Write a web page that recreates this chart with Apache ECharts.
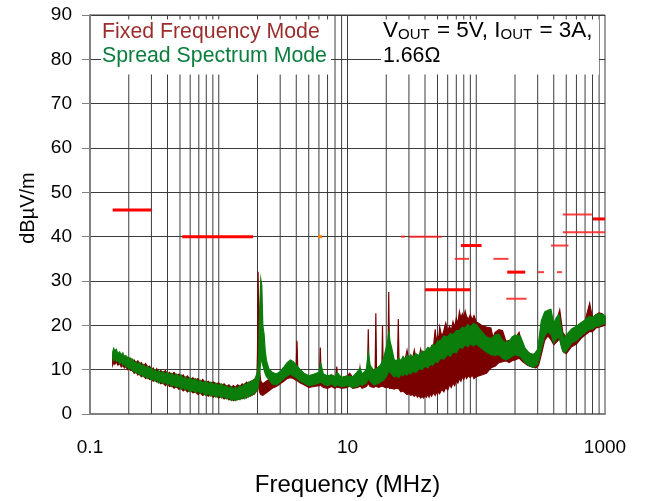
<!DOCTYPE html>
<html>
<head>
<meta charset="utf-8">
<script src="https://cdn.jsdelivr.net/npm/echarts@6/dist/echarts.min.js"></script>
<style>
  html, body { margin: 0; padding: 0; background: #fff; }
  #chart { width: 649px; height: 501px; }
</style>
</head>
<body>
<div id="chart"></div>
<script>
// Radiated emissions scan, 150 kHz to 1 GHz, dBµV/m

const xTickLabels = [0.1, 10, 1000];
const yMin = 0, yMax = 90, yStep = 10;

// Log-decade grid lines (MHz)
const gridFreqs = [
  0.2, 0.3, 0.4, 0.5, 0.6, 0.7, 0.8, 0.9, 1,
  2, 3, 4, 5, 6, 7, 8, 9, 10,
  20, 30, 40, 50, 60, 70, 80, 90, 100,
  200, 300, 400, 500, 600, 700, 800, 900
];

// Fixed frequency mode: frequency (MHz), lower / upper edge of the scan trace (dBµV/m)
const fixedFreq = [
  0.15, 0.153, 0.156, 0.16, 0.165, 0.17, 0.175, 0.18, 0.185, 0.19, 0.195, 0.2, 0.207, 0.214,
  0.22, 0.228, 0.235, 0.243, 0.25, 0.26, 0.27, 0.28, 0.29, 0.3, 0.31, 0.32, 0.33, 0.34,
  0.355, 0.37, 0.385, 0.4, 0.415, 0.43, 0.45, 0.47, 0.49, 0.51, 0.53, 0.55, 0.57, 0.6,
  0.63, 0.66, 0.69, 0.72, 0.75, 0.79, 0.83, 0.87, 0.91, 0.95, 1.0, 1.05, 1.1, 1.15,
  1.2, 1.25, 1.3, 1.35, 1.4, 1.46, 1.52, 1.58, 1.64, 1.7, 1.76, 1.82, 1.88, 1.94,
  1.98, 2.0, 2.02, 2.04, 2.07, 2.12, 2.2, 2.3, 2.4, 2.6,
  2.8, 3.0, 3.2, 3.4, 3.6, 3.8, 3.99, 4.05, 4.11, 4.3, 4.6, 5.0, 5.5, 6.0, 6.07,
  6.15, 6.23, 6.5, 7.0, 7.5, 8.0, 8.15, 8.25, 8.35, 8.6, 9.0, 10, 10.4, 11, 12,
  12.35, 12.5, 12.65, 13, 14, 14.3, 14.5, 14.7, 15, 16, 16.4, 16.6, 16.8, 17.5,
  18.2, 18.5, 18.7, 18.9, 19.6, 20.2, 20.6, 20.9, 21.2, 22, 23, 24, 24.5, 24.8,
  25.1, 26, 27, 28, 29, 30, 31, 32, 33, 34, 35, 36, 37, 38, 39, 40, 41, 42, 43,
  44, 45, 46.5, 48, 49, 50, 51, 52, 54, 56, 58, 60, 62, 64, 66, 68, 70, 72, 74,
  76, 78, 80, 82, 84, 87, 90, 93, 96, 100, 110, 120, 130, 135, 140, 150, 160,
  170, 180, 190, 200, 215, 230, 250, 270, 290, 305, 320, 340, 360, 380, 400,
  420, 445, 470, 500, 550, 600, 650, 700, 760, 800, 850, 900, 950, 1000
];
const fixedLow = [
  11.0, 11.6, 11.2, 11.8, 11.0, 11.4, 10.6, 11.0, 10.4, 10.8, 10.0, 10.4, 9.8, 10.0,
  9.2, 9.6, 8.8, 9.2, 8.4, 8.8, 8.0, 8.4, 7.8, 8.0, 7.4, 7.8, 7.2, 7.4,
  6.8, 7.0, 6.4, 6.8, 6.2, 6.4, 5.8, 6.2, 5.6, 5.8, 5.2, 5.6, 5.0, 5.4,
  4.8, 5.0, 4.4, 4.8, 4.2, 4.6, 4.0, 4.4, 3.8, 4.2, 3.6, 4.0, 3.4, 3.8,
  3.2, 3.6, 3.0, 3.4, 3.2, 3.6, 3.4, 3.8, 3.6, 4.2, 4.0, 4.6, 4.4, 5.0,
  5.4, 6.0, 7.0, 6.0, 5.0, 4.4, 4.2, 4.6, 5.0, 5.8,
  6.2, 6.8, 7.4, 8.0, 8.2, 8.0, 7.6, 8.0, 7.4, 7.0, 6.6, 6.0, 6.2, 6.4, 6.4,
  6.8, 6.4, 6.0, 5.8, 6.2, 5.8, 6.0, 6.6, 6.0, 6.0, 5.8, 6.0, 6.4, 5.8, 6.0,
  6.2, 6.6, 6.2, 5.8, 6.2, 6.6, 7.0, 6.6, 6.2, 6.0, 6.2, 6.6, 6.2, 6.0,
  6.2, 6.2, 6.4, 6.2, 6.0, 6.0, 6.0, 6.2, 5.8, 5.8, 5.6, 5.8, 5.8, 6.0,
  5.6, 5.0, 5.2, 4.8, 4.4, 4.6, 4.2, 4.4, 4.0, 4.4, 3.8, 4.2, 3.6, 4.0, 3.6, 4.2, 3.8, 4.4, 3.8,
  4.6, 4.0, 4.8, 4.2, 5.0, 4.4, 5.2, 4.6, 5.6, 5.0, 6.0, 5.4, 6.6, 6.0, 7.0, 6.4, 7.6, 7.0, 8.0,
  7.4, 8.4, 7.8, 8.8, 8.0, 8.6, 8.2, 8.8, 8.0, 8.4, 8.8, 9.2, 10.4, 10.6, 10.8, 11.6, 11.8,
  12.0, 11.6, 12.0, 12.2, 12.6, 11.8, 11.0, 10.6, 10.4, 11.0, 13.4, 16.6, 17.6, 16.8, 15.6,
  16.2, 17.0, 14.2, 13.6, 15.2, 15.8, 17.0, 17.8, 18.6, 18.6, 19.4, 19.6, 19.8, 20.0
];
const fixedHigh = [
  13.0, 12.4, 13.6, 14.0, 13.4, 12.8, 13.4, 12.6, 13.0, 12.4, 12.8, 12.2, 12.6, 11.8,
  12.2, 11.6, 12.0, 11.2, 11.6, 10.8, 11.4, 10.6, 10.8, 10.0, 10.4, 9.6, 10.2, 9.4,
  9.8, 9.2, 9.8, 9.0, 9.4, 8.8, 9.4, 8.6, 9.0, 8.4, 8.8, 8.0, 8.6, 7.8,
  8.2, 7.6, 8.0, 7.2, 7.8, 7.0, 7.4, 6.8, 7.2, 6.8, 7.0, 6.4, 6.8, 6.2,
  6.6, 6.0, 6.4, 6.0, 6.6, 6.2, 6.8, 6.4, 7.2, 6.8, 7.4, 7.2, 7.8, 8.0,
  9.0, 14.0, 32.1, 22.0, 10.0, 7.4, 6.8, 7.2, 7.6, 8.2,
  8.6, 9.2, 10.0, 10.6, 11.0, 10.4, 10.6, 16.5, 10.2, 9.4, 8.8, 8.4, 8.8, 9.0, 9.2,
  15.0, 9.0, 8.6, 8.4, 8.8, 8.4, 8.8, 10.7, 8.6, 8.4, 8.2, 8.6, 9.2, 8.2, 8.6,
  8.8, 10.3, 8.8, 8.4, 9.0, 9.6, 19.1, 9.8, 9.4, 9.6, 10.2, 22.7, 10.4, 10.0,
  10.6, 10.8, 19.9, 11.0, 10.8, 11.4, 11.6, 27.5, 12.0, 11.6, 12.0, 11.8, 12.4, 21.4,
  12.4, 11.8, 12.6, 12.2, 14.4, 12.0, 13.2, 12.4, 14.4, 12.6, 13.0, 12.8, 14.6, 13.0, 13.4, 13.2, 14.4, 13.6, 14.6,
  14.0, 15.4, 15.0, 19.1, 16.0, 17.6, 16.8, 19.6, 17.4, 18.8, 20.5, 18.6, 19.8, 18.8, 20.8, 19.6, 21.6, 20.4, 23.1,
  21.6, 22.6, 21.8, 23.2, 22.0, 21.4, 22.4, 21.2, 22.2, 20.8, 20.0, 19.6, 19.4, 17.2, 18.4, 19.0, 18.8,
  16.4, 16.6, 16.2, 16.8, 18.4, 15.0, 14.0, 13.4, 13.6, 14.4, 19.6, 22.0, 22.6, 21.6, 19.6,
  21.0, 23.5, 18.4, 17.2, 18.6, 19.6, 20.2, 21.0, 25.0, 21.6, 22.4, 22.8, 22.6, 22.0
];

// Spread spectrum mode: frequency (MHz), lower / upper edge of the scan trace (dBµV/m)
const spreadFreq = [
  0.15, 0.153, 0.156, 0.16, 0.165, 0.17, 0.175, 0.18, 0.185, 0.19, 0.195, 0.2, 0.207, 0.214,
  0.22, 0.228, 0.235, 0.243, 0.25, 0.26, 0.27, 0.28, 0.29, 0.3, 0.31, 0.32, 0.33, 0.34,
  0.355, 0.37, 0.385, 0.4, 0.415, 0.43, 0.45, 0.47, 0.49, 0.51, 0.53, 0.55, 0.57, 0.6,
  0.63, 0.66, 0.69, 0.72, 0.75, 0.79, 0.83, 0.87, 0.91, 0.95, 1.0, 1.05, 1.1, 1.15,
  1.2, 1.25, 1.3, 1.35, 1.4, 1.46, 1.52, 1.58, 1.64, 1.7, 1.76, 1.82, 1.88, 1.94,
  2.0, 2.04, 2.08, 2.12, 2.16, 2.2, 2.25, 2.3, 2.35, 2.45,
  2.6, 2.8, 3.0, 3.2, 3.4, 3.6, 3.8, 4.0, 4.3, 4.6, 5.0, 5.5, 6.0, 6.2, 6.5, 7.0,
  7.5, 8.0, 8.3, 9.0, 10, 11, 12, 12.5, 13, 14, 14.5, 15, 16, 17, 18, 19, 20,
  20.6, 21, 21.4, 22, 23, 24, 25, 26, 27, 28, 29, 30, 31, 32, 34, 36, 38, 40, 42,
  44, 46, 48, 50, 53, 56, 60, 63, 66, 70, 74, 78, 82, 86, 90, 95, 100, 110, 120,
  130, 140, 150, 160, 170, 180, 190, 200, 220, 240, 260, 280, 300, 320, 340, 360,
  380, 400, 420, 440, 460, 480, 500, 550, 600, 650, 700, 750, 800, 850, 900, 950, 1000
];
const spreadLow = [
  12.6, 12.0, 12.8, 11.8, 12.2, 11.4, 11.8, 11.0, 11.4, 10.6, 10.8, 10.2, 10.4, 9.6,
  9.8, 9.2, 9.4, 8.8, 9.0, 8.4, 8.6, 8.0, 8.4, 7.6, 8.0, 7.4, 7.8, 7.0,
  7.4, 6.8, 7.2, 6.6, 7.0, 6.2, 6.6, 6.0, 6.4, 5.6, 6.0, 5.4, 5.8, 5.0,
  5.4, 4.8, 5.2, 4.6, 5.0, 4.2, 4.6, 4.0, 4.4, 3.8, 4.2, 3.6, 4.0, 3.4,
  3.8, 3.0, 3.4, 3.0, 3.4, 3.2, 3.8, 3.4, 4.0, 3.8, 4.4, 4.2, 4.8, 5.0,
  5.6, 6.5, 9.0, 12.0, 12.0, 11.0, 10.0, 9.0, 8.4, 7.8,
  6.8, 6.6, 7.2, 8.0, 8.6, 9.0, 8.6, 8.2, 7.4, 7.0, 6.4, 6.6, 7.0, 7.2, 6.8, 6.4,
  6.8, 6.2, 6.6, 6.2, 6.4, 6.0, 6.2, 6.8, 6.4, 7.0, 8.0, 7.4, 6.6, 6.8, 7.2, 7.6, 8.4,
  9.2, 10.0, 9.4, 9.0, 8.4, 8.6, 8.2, 9.0, 8.6, 9.2, 8.8, 9.4, 9.0, 9.6, 9.4, 10.2, 10.0, 10.8, 10.4,
  11.2, 11.0, 11.8, 11.6, 12.6, 12.4, 13.4, 13.0, 14.0, 13.8, 15.0, 14.8, 15.6, 15.2, 15.8, 15.4, 15.8, 14.8, 14.0,
  13.4, 13.2, 13.4, 12.6, 12.2, 12.6, 13.0, 13.4, 13.0, 11.6, 10.8, 10.6, 11.2, 14.6, 17.6, 18.6,
  18.0, 16.0, 17.0, 17.4, 15.0, 13.8, 14.2, 16.0, 16.6, 17.6, 18.4, 19.0, 19.2, 19.8, 19.8, 20.2, 20.4
];
const spreadHigh = [
  14.0, 14.8, 14.2, 14.6, 13.6, 14.0, 13.2, 13.8, 12.8, 13.2, 12.6, 12.8, 12.2, 12.4,
  11.6, 11.8, 11.2, 11.6, 10.8, 11.2, 10.4, 10.8, 10.2, 10.4, 9.8, 10.0, 9.4, 9.8,
  9.2, 9.6, 9.0, 9.4, 8.8, 9.2, 8.6, 9.0, 8.4, 8.8, 8.0, 8.4, 7.8, 8.2,
  7.6, 8.0, 7.2, 7.6, 7.0, 7.4, 6.8, 7.2, 6.6, 7.0, 6.4, 6.8, 6.2, 6.4,
  5.8, 6.2, 5.6, 6.0, 5.8, 6.4, 6.0, 6.8, 6.6, 7.2, 7.0, 7.6, 7.4, 8.4,
  9.4, 13.0, 24.0, 30.4, 29.0, 20.0, 18.0, 14.0, 12.0, 10.2,
  9.4, 9.0, 9.6, 10.6, 11.6, 12.2, 11.8, 11.0, 10.0, 9.2, 8.6, 9.0, 9.4, 11.4, 9.0, 8.6,
  8.8, 8.4, 9.4, 8.2, 8.6, 8.4, 9.6, 10.4, 9.0, 10.0, 14.0, 11.0, 9.8, 10.4, 11.0, 12.4, 15.0,
  17.0, 18.6, 16.4, 15.0, 12.4, 11.8, 12.6, 12.0, 13.0, 12.4, 13.2, 12.6, 13.4, 12.8, 13.6, 13.2, 14.2, 14.0, 15.0,
  14.8, 15.6, 15.4, 16.4, 16.6, 17.6, 17.4, 18.2, 17.8, 18.8, 18.8, 19.6, 19.4, 20.2, 19.6, 20.4, 20.2, 18.6, 17.4,
  17.0, 17.8, 18.0, 16.6, 16.2, 16.4, 17.4, 17.8, 17.6, 14.8, 13.6, 13.4, 14.6, 21.0, 23.0, 23.4,
  23.6, 20.4, 21.8, 22.4, 19.0, 17.0, 17.8, 19.2, 19.8, 20.6, 21.2, 22.0, 21.8, 22.4, 22.6, 22.4, 22.2
];

// Emission limit segments: [start MHz, end MHz, level dBµV/m]
const limitMajor = [
  [0.15, 0.3, 46], [0.52, 1.85, 40], [40, 90, 28], [76, 110, 38],
  [174, 240, 32], [806, 1000, 44]
];
const limitMinor = [
  [26, 28, 40], [30, 54, 40], [68, 88, 35], [136, 178, 35], [171, 246, 26],
  [300, 336, 32], [424, 463, 32], [380, 520, 38], [470, 790, 45], [470, 1000, 41]
];
const limitSpot = [[5.9, 6.35, 40]];

const FONT = '"Liberation Sans", Arial, Helvetica, sans-serif';

function bandSeries(name, freq, low, high, color, z) {
  return {
    type: 'custom',
    name: name,
    z: z,
    silent: true,
    coordinateSystem: 'cartesian2d',
    data: freq.map(function (f, i) { return [f, low[i], high[i]]; }),
    encode: { x: 0, y: [1, 2] },
    renderItem: function (params, api) {
      if (params.dataIndex !== 0) return null;
      const pts = [];
      for (let i = 0; i < freq.length; i++) pts.push(api.coord([freq[i], high[i]]));
      for (let i = freq.length - 1; i >= 0; i--) pts.push(api.coord([freq[i], low[i]]));
      return {
        type: 'polygon',
        shape: { points: pts },
        style: { fill: color, stroke: color, lineWidth: 1.2 }
      };
    }
  };
}

function segmentSeries(segs, color, width, z) {
  return {
    type: 'custom',
    z: z,
    silent: true,
    coordinateSystem: 'cartesian2d',
    data: segs,
    encode: { x: [0, 1], y: 2 },
    renderItem: function (params, api) {
      const a = api.coord([api.value(0), api.value(2)]);
      const b = api.coord([api.value(1), api.value(2)]);
      return {
        type: 'line',
        shape: { x1: a[0], y1: a[1], x2: b[0], y2: b[1] },
        style: { stroke: color, lineWidth: width }
      };
    }
  };
}

const gridLineSeries = {
  type: 'custom',
  z: 1,
  silent: true,
  coordinateSystem: 'cartesian2d',
  data: gridFreqs.map(function (f) { return [f, yMin]; }),
  encode: { x: 0, y: 1 },
  renderItem: function (params, api) {
    const a = api.coord([api.value(0), yMin]);
    const b = api.coord([api.value(0), yMax]);
    return {
      type: 'line',
      shape: { x1: a[0], y1: a[1], x2: b[0], y2: b[1] },
      style: { stroke: '#3c3c3c', lineWidth: 1 }
    };
  }
};

const chart = echarts.init(document.getElementById('chart'), null, { renderer: 'canvas' });

chart.setOption({
  animation: false,
  backgroundColor: '#ffffff',
  grid: {
    left: 90, right: 44, top: 15, bottom: 87,
    containLabel: false,
    outerBoundsMode: 'none',
    show: true,
    borderColor: '#3c3c3c',
    borderWidth: 1
  },
  xAxis: {
    type: 'log',
    logBase: 10,
    min: 0.1,
    max: 1000,
    axisLine: { show: true, lineStyle: { color: '#808080', width: 2 } },
    axisTick: { show: false },
    splitLine: { show: false },
    axisLabel: {
      margin: 24,
      fontSize: 19,
      fontFamily: FONT,
      color: '#000',
      formatter: function (v) {
        for (const t of xTickLabels) {
          if (Math.abs(Math.log10(v) - Math.log10(t)) < 1e-6) return String(t);
        }
        return '';
      }
    },
    name: 'Frequency (MHz)',
    nameLocation: 'middle',
    nameGap: 59,
    nameTextStyle: { fontSize: 24, fontFamily: FONT, color: '#000' }
  },
  yAxis: {
    type: 'value',
    min: yMin,
    max: yMax,
    interval: yStep,
    axisLine: { show: true, lineStyle: { color: '#808080', width: 2 } },
    axisTick: { show: true, inside: false, length: 8, lineStyle: { color: '#808080', width: 1 } },
    splitLine: { show: true, lineStyle: { color: '#3c3c3c', width: 1 } },
    axisLabel: { margin: 18, fontSize: 19, fontFamily: FONT, color: '#000' }
  },
  graphic: [
    { type: 'rect', z: 50, silent: true, shape: { x: 101, y: 19.5, width: 230, height: 55 }, style: { fill: '#fff' } },
    { type: 'rect', z: 50, silent: true, shape: { x: 381, y: 19.5, width: 218, height: 55 }, style: { fill: '#fff' } },
    { type: 'text', z: 60, x: 102, y: 32, style: { text: 'Fixed Frequency Mode', fill: '#9b2d2d', font: '21.3px ' + FONT, verticalAlign: 'middle', align: 'left' } },
    { type: 'text', z: 60, x: 102, y: 56, style: { text: 'Spread Spectrum Mode', fill: '#0b7d3c', font: '21.3px ' + FONT, verticalAlign: 'middle', align: 'left' } },
    {
      type: 'text', z: 60, x: 383, y: 31,
      style: {
        text: '{a|V}{b|OUT}{a| = 5V, I}{b|OUT}{a| = 3A,}',
        verticalAlign: 'middle', align: 'left',
        rich: {
          a: { fontSize: 22.5, fontFamily: FONT, fill: '#000', verticalAlign: 'bottom' },
          b: { fontSize: 15, fontFamily: FONT, fill: '#000', verticalAlign: 'bottom', padding: [0, 1, 0, 0] }
        }
      }
    },
    { type: 'text', z: 60, x: 383, y: 56, style: { text: '1.66Ω', fill: '#000', font: '21.3px ' + FONT, verticalAlign: 'middle', align: 'left' } },
    { type: 'text', z: 60, x: 28, y: 208, rotation: Math.PI / 2, style: { text: 'dBµV/m', fill: '#000', font: '20px ' + FONT, verticalAlign: 'middle', align: 'center' } }
  ],
  series: [
    gridLineSeries,
    segmentSeries(limitMinor, 'rgba(255,30,30,0.85)', 2, 3),
    segmentSeries(limitMajor, '#ff0000', 3, 3),
    segmentSeries(limitSpot, '#ff8000', 3, 3),
    bandSeries('Fixed Frequency Mode', fixedFreq, fixedLow, fixedHigh, '#7a0000', 4),
    bandSeries('Spread Spectrum Mode', spreadFreq, spreadLow, spreadHigh, '#0a7d0a', 5)
  ]
});
</script>
</body>
</html>
